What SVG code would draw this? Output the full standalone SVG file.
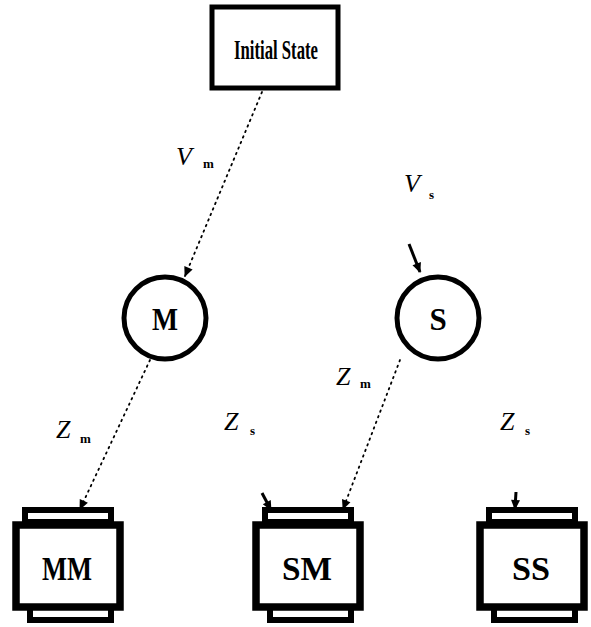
<svg xmlns="http://www.w3.org/2000/svg" width="591" height="627" viewBox="0 0 591 627">
  <style>
    .ring { fill: #fff; stroke: #000; stroke-width: 5; }
    .thick { fill: #fff; stroke: #000; stroke-width: 7.5; }
    .tab { fill: #fff; stroke: #000; stroke-width: 6; }
    .state { fill: #fff; stroke: #000; stroke-width: 5; }
    .name { font-family: "Liberation Serif", "DejaVu Serif", serif; fill: #000; text-anchor: middle; font-weight: bold; }
    .lbl { font-family: "Liberation Serif", "DejaVu Serif", serif; font-style: italic; fill: #000; font-size: 26px; }
    .sub { font-family: "Liberation Serif", "DejaVu Serif", serif; fill: #000; font-size: 13px; font-weight: bold; }
    .edge { fill: none; stroke: #000; stroke-width: 1.8; stroke-dasharray: 1.5 4.5; stroke-linecap: round; }
    .stub { fill: none; stroke: #000; stroke-width: 3; }
  </style>
  <defs>
    <marker id="head" viewBox="0 0 10 10" refX="9" refY="5" markerWidth="15" markerHeight="10" markerUnits="userSpaceOnUse" orient="auto">
      <path d="M0,0.5 L10,5 L0,9.5 Z" fill="#000"/>
    </marker>
  </defs>

  <!-- connectors -->
  <g id="connectors">
    <line class="edge" x1="262" y1="92" x2="185" y2="276" marker-end="url(#head)"/>
    <path class="stub" d="M409,244 L420,272" marker-end="url(#head)"/>
    <line class="edge" x1="150" y1="360" x2="80" y2="509" marker-end="url(#head)"/>
    <line class="edge" x1="400" y1="360" x2="343" y2="509" marker-end="url(#head)"/>
    <path class="stub" d="M262,493 L271,510" marker-end="url(#head)"/>
    <path class="stub" d="M516,492 L515,509" marker-end="url(#head)"/>
  </g>

  <!-- edge labels -->
  <g id="labels">
    <text class="lbl" x="176" y="165">V</text><text class="sub" x="203" y="168">m</text>
    <text class="lbl" x="404" y="192">V</text><text class="sub" x="429" y="199">s</text>
    <text class="lbl" x="56" y="438">Z</text><text class="sub" x="80" y="443">m</text>
    <text class="lbl" x="224" y="430">Z</text><text class="sub" x="250" y="435">s</text>
    <text class="lbl" x="336" y="385">Z</text><text class="sub" x="360" y="388">m</text>
    <text class="lbl" x="500" y="430">Z</text><text class="sub" x="525" y="435">s</text>
  </g>

  <g id="initial">
    <rect class="state" x="212" y="7" width="126" height="81"/>
    <text class="name" x="276" y="59" font-size="28" textLength="84" lengthAdjust="spacingAndGlyphs">Initial State</text>
  </g>

  <g id="M">
    <circle class="ring" cx="165" cy="318" r="41"/>
    <text class="name" x="165" y="330" font-size="31" textLength="26" lengthAdjust="spacingAndGlyphs">M</text>
  </g>

  <g id="S">
    <circle class="ring" cx="438" cy="318" r="41"/>
    <text class="name" x="438" y="330" font-size="31">S</text>
  </g>

  <g id="MM">
    <rect class="tab" x="25" y="510" width="86" height="12"/>
    <rect class="tab" x="30" y="607" width="81" height="13"/>
    <rect class="thick" x="16" y="525" width="104" height="82"/>
    <text class="name" x="67" y="580" font-size="34" textLength="50" lengthAdjust="spacingAndGlyphs">MM</text>
  </g>

  <g id="SM">
    <rect class="tab" x="265" y="510" width="86" height="12"/>
    <rect class="tab" x="270" y="607" width="81" height="13"/>
    <rect class="thick" x="256" y="525" width="104" height="82"/>
    <text class="name" x="307" y="580" font-size="34" textLength="50" lengthAdjust="spacingAndGlyphs">SM</text>
  </g>

  <g id="SS">
    <rect class="tab" x="489" y="510" width="86" height="12"/>
    <rect class="tab" x="494" y="607" width="81" height="13"/>
    <rect class="thick" x="480" y="525" width="104" height="82"/>
    <text class="name" x="531" y="580" font-size="34" textLength="38" lengthAdjust="spacingAndGlyphs">SS</text>
  </g>
</svg>
